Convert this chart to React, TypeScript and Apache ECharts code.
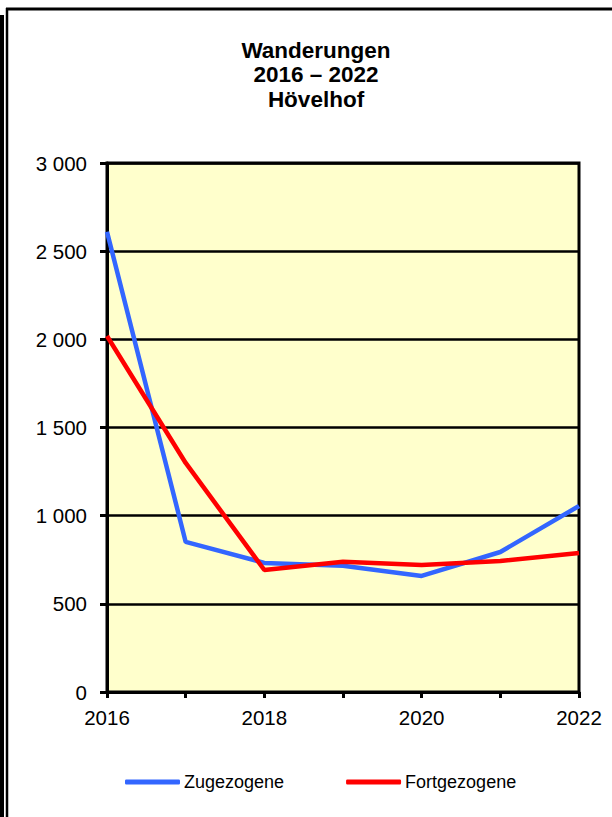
import React, { useEffect, useRef } from "react";
import * as echarts from "echarts";

const years = ["2016", "2017", "2018", "2019", "2020", "2021", "2022"];
const zugezogene = [2610, 851, 732, 716, 658, 794, 1055];
const fortgezogene = [2019, 1299, 692, 739, 720, 743, 788];
const titleLines = ["Wanderungen", "2016 – 2022", "Hövelhof"];

export default function App() {
  const ref = useRef<HTMLDivElement>(null);
  useEffect(() => {
    if (!ref.current) return;
    const chart = echarts.init(ref.current, null, { renderer: "svg" });
    const font = "Liberation Sans, Arial, sans-serif";
    chart.setOption({
      animation: false,
      backgroundColor: "#ffffff",
      title: {
        text: titleLines.join("\n"),
        left: 311,
        textAlign: "center",
        top: 33,
        textStyle: { fontFamily: font, fontSize: 22.5, fontWeight: "bold", color: "#000", lineHeight: 24.5 },
      },
      legend: {
        left: 120,
        top: 768,
        itemWidth: 55,
        itemHeight: 5,
        itemGap: 62,
        icon: "roundRect",
        textStyle: { fontFamily: font, fontSize: 18, color: "#000", padding: [0, 0, 0, -1] },
        data: ["Zugezogene", "Fortgezogene"],
      },
      grid: {
        left: 107,
        right: 33,
        top: 163,
        bottom: 125,
        show: true,
        backgroundColor: "#FFFFCC",
        borderColor: "#000",
        borderWidth: 3,
      },
      xAxis: {
        type: "category",
        data: years,
        boundaryGap: false,
        axisLine: { lineStyle: { color: "#000", width: 3 } },
        axisTick: { show: true, interval: 0, length: 6, lineStyle: { color: "#000", width: 3 } },
        axisLabel: { interval: 1, color: "#000", fontFamily: font, fontSize: 20.5, margin: 15 },
        splitLine: { show: false },
      },
      yAxis: {
        type: "value",
        min: 0,
        max: 3000,
        interval: 500,
        axisLine: { show: true, lineStyle: { color: "#000", width: 3 } },
        axisTick: { show: true, length: 7, lineStyle: { color: "#000", width: 3 } },
        axisLabel: {
          color: "#000",
          fontFamily: font,
          fontSize: 20.5,
          margin: 20,
          formatter: (v: number) => String(v).replace(/\B(?=(\d{3})+(?!\d))/g, " "),
        },
        splitLine: { show: true, lineStyle: { color: "#000", width: 2.5 } },
      },
      series: [
        {
          name: "Zugezogene",
          type: "line",
          data: zugezogene,
          symbol: "none",
          color: "#3366FF",
          lineStyle: { width: 4.5, color: "#3366FF" },
        },
        {
          name: "Fortgezogene",
          type: "line",
          data: fortgezogene,
          symbol: "none",
          color: "#FF0000",
          lineStyle: { width: 4.5, color: "#FF0000" },
        },
      ],
      graphic: [
        { type: "line", shape: { x1: 6, y1: 9, x2: 612, y2: 9 }, style: { stroke: "#000", lineWidth: 3 } },
        { type: "line", shape: { x1: 7, y1: 8, x2: 7, y2: 817 }, style: { stroke: "#000", lineWidth: 2.5 } },
        { type: "line", shape: { x1: 2, y1: 15, x2: 2, y2: 817 }, style: { stroke: "#000", lineWidth: 4 } },
      ],
    });
    return () => chart.dispose();
  }, []);
  return <div ref={ref} style={{ position: "fixed", left: 0, top: 0, width: 612, height: 817 }} />;
}
